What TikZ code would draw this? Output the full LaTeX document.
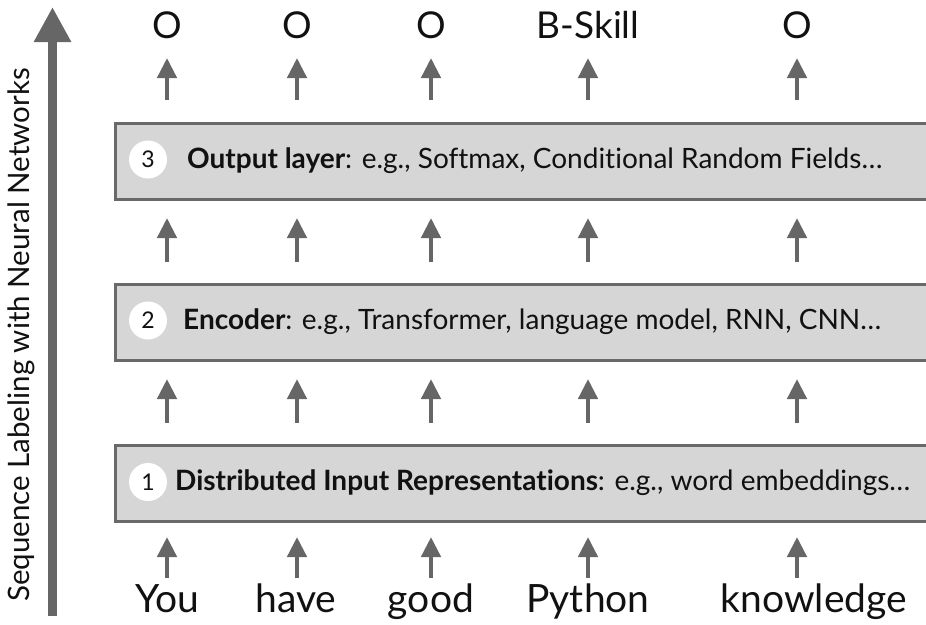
\documentclass[tikz,border=0pt]{standalone}
\usepackage{fontspec}
\setmainfont{Lato}[Ligatures=NoCommon]
\usetikzlibrary{arrows.meta}
\definecolor{boxfill}{HTML}{D6D6D6}
\definecolor{boxline}{HTML}{696969}
\definecolor{arrowc}{HTML}{666666}
\definecolor{txt}{HTML}{111111}
\tikzset{
 layer/.style={draw=boxline, line width=3pt, fill=boxfill, minimum width=840pt, minimum height=76.5pt, anchor=north west, inner sep=0pt},
 num/.style={circle, fill=white, minimum size=38pt, inner sep=0pt, text=txt, font=\fontsize{23}{23}\selectfont},
 desc/.style={anchor=base west, text=txt, font=\fontsize{28}{30}\selectfont, inner sep=0pt},
 word/.style={anchor=base, text=txt, font=\fontsize{39}{40}\selectfont, inner sep=0pt},
 tag/.style={anchor=base, text=txt, font=\fontsize{37}{38}\selectfont, inner sep=0pt},
 up/.style={draw=arrowc, line width=4.5pt, -{Triangle[width=19pt,length=20pt]}},
 bigup/.style={draw=arrowc, line width=9pt, -{Triangle[width=35pt,length=35pt]}},
 side/.style={rotate=90, text=txt, font=\fontsize{29.5}{31}\selectfont, inner sep=0pt},
}
\begin{document}
\begin{tikzpicture}[x=1pt,y=-1pt]
\useasboundingbox (0,0) rectangle (926,624);
\begin{scope}
\clip (0,0) rectangle (926,624);
% layers
\node[layer] (b3) at (113.5,121.5) {};
\node[layer] (b2) at (113.5,282.5) {};
\node[layer] (b1) at (113.5,443.5) {};
\end{scope}
% numbers
\node[num] (n3) at (148,159.5) {3};
\node[num] (n2) at (148,320.5) {2};
\node[num] (n1) at (148,482) {1};
% descriptions
\node[desc] (d3) at (187,168) {\textbf{Output layer}: e.g., Softmax, Conditional Random Fields…};
\node[desc] (d2) at (183,329) {\textbf{Encoder}: e.g., Transformer, language model, RNN, CNN…};
\node[desc] (d1) at (175,490) {\textbf{Distributed Input Representations}: e.g., word embeddings…};
% words
\node[word] (w1) at (167,612) {You};
\node[word] (w2) at (296,612) {have};
\node[word] (w3) at (431,612) {good};
\node[word] (w4) at (588,612) {Python};
\node[word] (w5) at (814,612) {knowledge};
% tags
\node[tag] (t1) at (167,38) {O};
\node[tag] (t2) at (297,38) {O};
\node[tag] (t3) at (431,38) {O};
\node[tag] (t4) at (588,38) {B-Skill};
\node[tag] (t5) at (797,38) {O};
% small arrows
\foreach \c/\x in {1/167,2/297,3/431,4/588,5/797}{
  \coordinate (a\c-1s) at (\x,578); \coordinate (a\c-1e) at (\x,537);
  \coordinate (a\c-2s) at (\x,423); \coordinate (a\c-2e) at (\x,379);
  \coordinate (a\c-3s) at (\x,262); \coordinate (a\c-3e) at (\x,218);
  \coordinate (a\c-4s) at (\x,100); \coordinate (a\c-4e) at (\x,58);
  \foreach \r in {1,2,3,4}{
    \draw[up] (a\c-\r s) -- (a\c-\r e);
  }
}
% big arrow and side label
\coordinate (bigbot) at (52.5,616);
\coordinate (bigtop) at (52.5,7);
\draw[bigup] (bigbot) -- (bigtop);
\node[side] (lab) at (21,335) {Sequence Labeling with Neural Networks};
\end{tikzpicture}
\end{document}
